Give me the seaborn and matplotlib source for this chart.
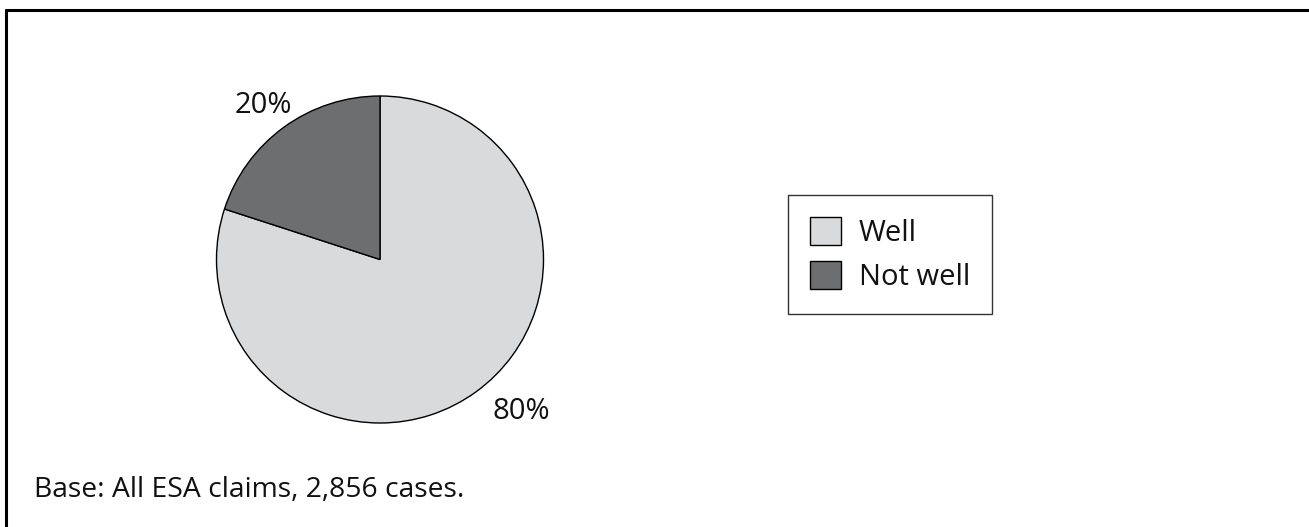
import matplotlib
matplotlib.use("Agg")
import matplotlib.pyplot as plt
from matplotlib.lines import Line2D
import seaborn as sns

categories = ["Well", "Not well"]
values = [80, 20]
pct_labels = ["80%", "20%"]
colors = ["#D9DADC", "#6D6E70"]
footnote = "Base: All ESA claims, 2,856 cases."

sns.set_theme(style="white")
plt.rcParams["font.family"] = ["Open Sans", "DejaVu Sans"]

W, H = 1309, 527
FS = 21
fig = plt.figure(figsize=(W / 100, H / 100), dpi=100)
fig.patch.set_facecolor("white")

# pie axes: centre (380,259.5) px, radius 163.5 px
ax = fig.add_axes([216.5 / W, (H - 423) / H, 327 / W, 327 / H])
wedges, _ = ax.pie(values, colors=colors, startangle=90, counterclock=False,
                   wedgeprops=dict(edgecolor="black", linewidth=1.0))
ax.set_xlim(-1, 1)
ax.set_ylim(-1, 1)
ax.set_aspect("equal")
ax.axis("off")

# percentage labels
ax.text(0.862, -0.976, pct_labels[0], ha="center", va="baseline", fontsize=FS, color="#111111", clip_on=False)
ax.text(-0.713, 0.896, pct_labels[1], ha="center", va="baseline", fontsize=FS, color="#111111", clip_on=False)

leg = fig.legend(wedges, categories, loc="upper left",
                 bbox_to_anchor=(788 / W, 1 - 195 / H),
                 frameon=True, fancybox=False, fontsize=FS,
                 handlelength=1.07, handleheight=1.1, handletextpad=0.6,
                 labelspacing=0.45, borderpad=0.75, borderaxespad=0)
leg.get_frame().set_edgecolor("black")
leg.get_frame().set_linewidth(1.0)
for t in leg.get_texts():
    t.set_color("#111111")

fig.text(34 / W, 1 - 497 / H, footnote, ha="left", va="baseline", fontsize=20.3, color="#111111")

# outer frame (top and left visible, others off-canvas)
fig.add_artist(Line2D([6 / W, 6 / W], [0, 1 - 10 / H], transform=fig.transFigure, color="black", linewidth=2.2))
fig.add_artist(Line2D([6 / W, 1], [1 - 10 / H, 1 - 10 / H], transform=fig.transFigure, color="black", linewidth=2.2))

fig.savefig("out.png", dpi=100, facecolor="white")
